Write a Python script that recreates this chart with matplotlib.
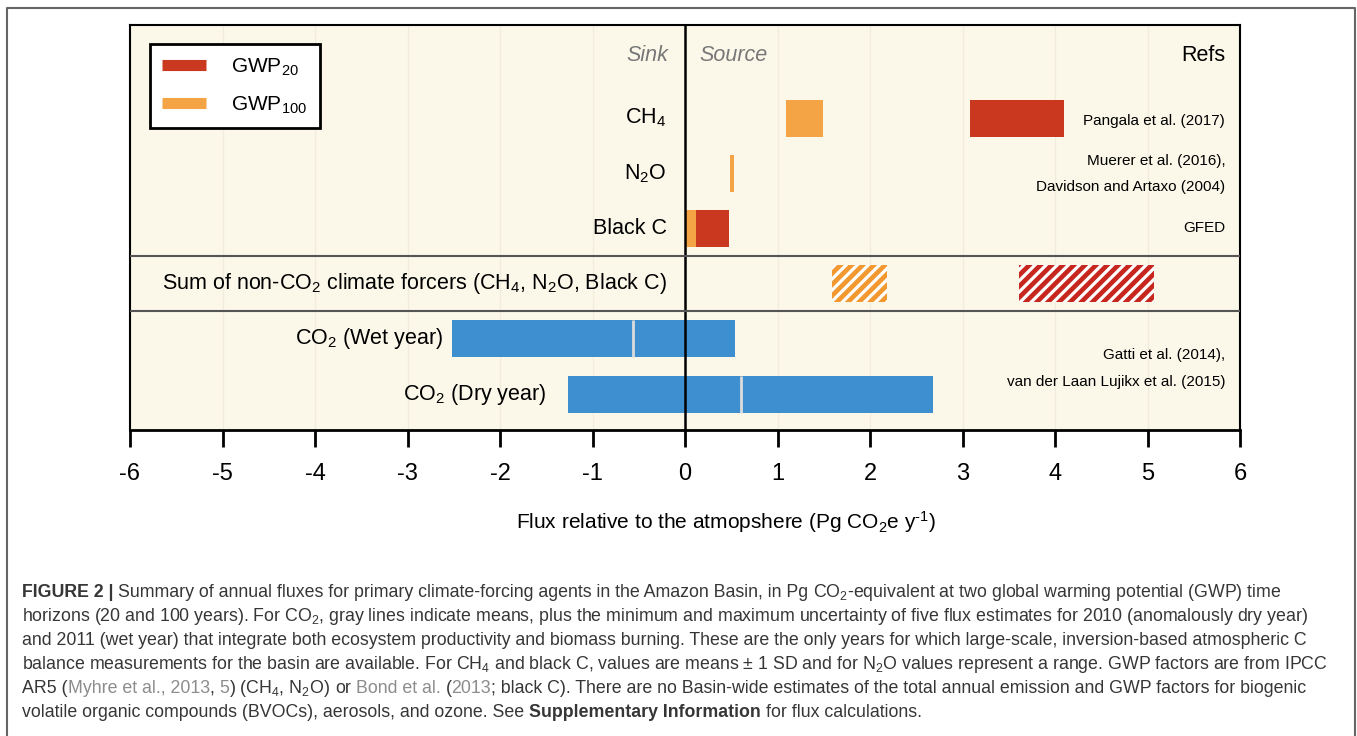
import matplotlib
matplotlib.use('Agg')
import matplotlib.pyplot as plt
from matplotlib.lines import Line2D

# Данные (Pg CO2e / год)
gas_labels = ['CH$_4$', 'N$_2$O', 'Black C']
gwp20_lo = [3.08, 0.49, 0.00]
gwp20_hi = [4.10, 0.53, 0.48]
gwp100_lo = [1.09, 0.49, 0.00]
gwp100_hi = [1.49, 0.53, 0.12]

sum_label = 'Sum of non-CO$_2$ climate forcers (CH$_4$, N$_2$O, Black C)'
sum20 = [3.61, 5.07]
sum100 = [1.59, 2.18]

co2_labels = ['CO$_2$ (Wet year)', 'CO$_2$ (Dry year)']
co2_lo = [-2.52, -1.27]
co2_hi = [0.54, 2.68]
co2_mean = [-0.56, 0.60]

refs = ['Pangala et al. (2017)', 'Muerer et al. (2016),', 'Davidson and Artaxo (2004)',
        'GFED', 'Gatti et al. (2014),', 'van der Laan Lujikx et al. (2015)']
refs_y = [0.05, 0.78, 1.25, 2.0, 4.29, 4.78]

xticks = list(range(-6, 7))

# Шрифты
plt.rcParams['font.family'] = ['Liberation Sans', 'DejaVu Sans']
plt.rcParams['mathtext.fontset'] = 'custom'
plt.rcParams['mathtext.rm'] = 'Liberation Sans'
plt.rcParams['mathtext.it'] = 'Liberation Sans:italic'
plt.rcParams['mathtext.bf'] = 'Liberation Sans:bold'
plt.rcParams['mathtext.default'] = 'regular'
plt.rcParams['hatch.linewidth'] = 2.3

W, H = 1357, 736
fig = plt.figure(figsize=(W / 100, H / 100), dpi=100)
ax = fig.add_axes([130 / W, 1 - 430 / H, 1110 / W, 405 / H])

red = '#c9381f'
orange = '#f5a445'
blue = '#3d8fcf'
bar_h = 0.67
lab_size = 15.5

ax.set_facecolor('#fbf8ea')
for v in xticks:
    ax.axvline(v, color='#f1ecdb', lw=1, zorder=0)

# Метан, закись азота, сажа
rows = list(range(len(gas_labels)))
ax.barh(rows, [h - l for l, h in zip(gwp20_lo, gwp20_hi)], left=gwp20_lo,
        height=bar_h, color=red, zorder=2)
ax.barh(rows, [h - l for l, h in zip(gwp100_lo, gwp100_hi)], left=gwp100_lo,
        height=bar_h, color=orange, zorder=3)

# Сумма (штриховка)
ax.barh(3, sum20[1] - sum20[0], left=sum20[0], height=bar_h, color='#c6261e',
        edgecolor='white', hatch='///', linewidth=0, zorder=2)
ax.barh(3, sum100[1] - sum100[0], left=sum100[0], height=bar_h, color='#f2982f',
        edgecolor='white', hatch='///', linewidth=0, zorder=2)

# CO2
co2_y = [4, 5]
ax.barh(co2_y, [h - l for l, h in zip(co2_lo, co2_hi)], left=co2_lo, height=bar_h,
        color=blue, zorder=2)
for m, y in zip(co2_mean, co2_y):
    ax.vlines(m, y - bar_h / 2, y + bar_h / 2, color='#dcdcdc', lw=2, zorder=3)

ax.axvline(0, color='black', lw=1.8, zorder=4)
ax.axhline(2.5, color='#555555', lw=1.5, zorder=4)
ax.axhline(3.5, color='#555555', lw=1.5, zorder=4)

# Подписи строк
for i, lab in enumerate(gas_labels):
    ax.text(-0.2, i, lab, ha='right', va='center', fontsize=lab_size)
ax.text(-0.2, 3, sum_label, ha='right', va='center', fontsize=lab_size)
ax.text(-2.61, 4, co2_labels[0], ha='right', va='center', fontsize=lab_size)
ax.text(-1.50, 5, co2_labels[1], ha='right', va='center', fontsize=lab_size)

ax.text(-0.18, -1.13, 'Sink', ha='right', va='center', fontsize=lab_size, style='italic', color='#777777')
ax.text(0.16, -1.13, 'Source', ha='left', va='center', fontsize=lab_size, style='italic', color='#777777')
ax.text(5.84, -1.13, 'Refs', ha='right', va='center', fontsize=lab_size)
for r, y in zip(refs, refs_y):
    ax.text(5.84, y, r, ha='right', va='center', fontsize=11)

# Легенда
handles = [Line2D([], [], color=red, lw=8, solid_capstyle='butt'),
           Line2D([], [], color=orange, lw=8, solid_capstyle='butt')]
leg = ax.legend(handles, ['GWP$_{20}$', 'GWP$_{100}$'], loc='upper left',
                bbox_to_anchor=(0.018, 0.953), borderaxespad=0, fontsize=15,
                handlelength=2.1, handletextpad=1.2, labelspacing=0.8, borderpad=0.6,
                fancybox=False, framealpha=1, edgecolor='black')
leg.get_frame().set_linewidth(2)
leg.set_zorder(6)

ax.set_xlim(-6, 6)
ax.set_ylim(5.65, -1.685)
ax.set_yticks([])
ax.set_xticks(xticks)
ax.set_xticklabels([str(v) for v in xticks])
ax.tick_params(axis='x', direction='out', length=12, width=2, pad=12, labelsize=17)
for s in ['top', 'left', 'right']:
    ax.spines[s].set_linewidth(1.5)
ax.spines['bottom'].set_linewidth(2)
ax.set_xlabel('Flux relative to the atmopshere (Pg CO$_2$e y$^{\\text{-1}}$)', fontsize=15)
ax.xaxis.set_label_coords(0.537, -0.195)

# Рамка рисунка
fig.add_artist(Line2D([7 / W, 7 / W, 1355 / W, 1355 / W], [0, 1 - 8 / H, 1 - 8 / H, 0],
                      transform=fig.transFigure, color='#666666', lw=1.5))

# Подпись к рисунку
cap_font = ['Liberation Sans', 'DejaVu Sans']
cap_size = 12.8
ink = '#363636'
link = '#8c8c8c'
caption = [
    [('FIGURE 2 |', ink, 'bold'),
     (' Summary of annual fluxes for primary climate-forcing agents in the Amazon Basin, in Pg', ink, 'normal'),
     (' CO$_2$-equivalent at two global warming potential (GWP) time', ink, 'normal')],
    [('horizons (20 and 100 years). For CO$_2$, gray lines indicate means, plus the minimum and maximum uncertainty of five flux estimates for 2010 (anomalously dry year)', ink, 'normal')],
    [('and 2011 (wet year) that integrate both ecosystem productivity and biomass burning. These are the only years for which large-scale, inversion-based atmospheric C', ink, 'normal')],
    [('balance measurements for the basin are available. For CH$_4$ and black C, values are means \u00b1 1 SD and for N$_2$O values represent a range. GWP factors are from IPCC', ink, 'normal')],
    [('AR5 (', ink, 'normal'), ('Myhre et al., 2013', link, 'normal'), (', ', ink, 'normal'),
     ('5', link, 'normal'), (') (CH$_4$, N$_2$O)', ink, 'normal'), (' or ', ink, 'normal'),
     ('Bond et al.', link, 'normal'), (' (', ink, 'normal'), ('2013', link, 'normal'),
     ('; black C). There are no Basin-wide estimates of the total annual emission and GWP factors for biogenic', ink, 'normal')],
    [('volatile organic compounds (BVOCs), aerosols, and ozone. See ', ink, 'normal'),
     ('Supplementary Information', ink, 'bold'), (' for flux calculations.', ink, 'normal')],
]

renderer = fig.canvas.get_renderer()


def text_width(s, weight):
    t = fig.text(0, 0, s, fontsize=cap_size, family=cap_font, weight=weight)
    w = t.get_window_extent(renderer).width
    t.remove()
    return w


space_w = text_width('a a', 'normal') - text_width('aa', 'normal')

for n, line in enumerate(caption):
    x = 22
    y = 597 + 24 * n
    for s, col, wt in line:
        core = s.strip(' ')
        lead = len(s) - len(s.lstrip(' '))
        trail = len(s) - len(s.rstrip(' '))
        x += lead * space_w
        t = fig.text(x / W, 1 - y / H, core, fontsize=cap_size, family=cap_font,
                     weight=wt, color=col, ha='left', va='baseline')
        x += t.get_window_extent(renderer).width + trail * space_w

fig.savefig('out.png', dpi=100)
